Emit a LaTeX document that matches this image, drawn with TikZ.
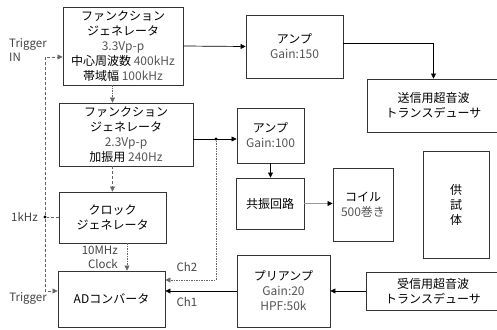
\documentclass[tikz,border=0pt]{standalone}
\usepackage{fontspec}
\setmainfont{Noto Sans CJK JP}
\usetikzlibrary{arrows.meta}
\definecolor{bc}{HTML}{333333}
\definecolor{tg}{HTML}{555555}
\definecolor{lg}{HTML}{444444}
\definecolor{dg}{HTML}{666666}
\definecolor{lgl}{HTML}{999999}
\begin{document}
\begin{tikzpicture}[x=1pt,y=-1pt,
  box/.style={draw=bc, line width=0.9pt, inner sep=0pt, align=center,
    font=\fontsize{12}{15}\selectfont},
  lbl/.style={inner sep=0pt, text=lg, font=\fontsize{11.5}{14}\selectfont},
  arr/.style={draw=black, line width=0.7pt, -{Triangle[length=5pt,width=5pt]}},
  dasharr/.style={draw=dg, line width=0.6pt, dash pattern=on 3pt off 2pt, -{Triangle[length=5pt,width=5pt]}},
  dotarr/.style={draw=dg, line width=0.6pt, dash pattern=on 1.5pt off 1pt, -{Triangle[length=5pt,width=5pt]}},
  jdot/.style={circle, fill=black, inner sep=0pt, minimum size=3.2pt}]
\useasboundingbox (0,0) rectangle (497,329);
\clip (0,0) rectangle (497,329);
\fill[white] (0,0) rectangle (497,329);

% boxes
\node[box, minimum width=120pt, minimum height=78pt] (fg1) at (123,46)
  {ファンクション\\ジェネレータ\\\textcolor{tg}{3.3Vp-p}\\中心周波数 \textcolor{tg}{400kHz}\\帯域幅 \textcolor{tg}{100kHz}};
\node[box, minimum width=97pt, minimum height=63pt] (amp1) at (294.5,46.5)
  {アンプ\\\textcolor{tg}{Gain:150}};
\node[box, minimum width=133pt, minimum height=53pt] (tx) at (433.5,105.5)
  {送信用超音波\\トランスデューサ};
\node[box, minimum width=134pt, minimum height=63pt] (fg2) at (126,134.5)
  {ファンクション\\ジェネレータ\\\textcolor{tg}{2.3Vp-p}\\加振用 \textcolor{tg}{240Hz}};
\node[box, minimum width=67pt, minimum height=55pt] (amp2) at (270.5,135.5)
  {アンプ\\\textcolor{tg}{Gain:100}};
\node[box, minimum width=68pt, minimum height=51pt] (res) at (270,203.5)
  {共振回路};
\node[box, minimum width=60pt, minimum height=73pt] (coil) at (363,204.5)
  {コイル\\\textcolor{tg}{500巻き}};
\node[box, minimum width=66pt, minimum height=107pt] (spec) at (456,204.5)
  {供\\試\\体};
\node[box, minimum width=107pt, minimum height=51pt] (clock) at (112.5,217.5)
  {クロック\\ジェネレータ};
\node[box, minimum width=107pt, minimum height=56pt] (adc) at (111.5,299)
  {ADコンバータ};
\node[box, minimum width=93pt, minimum height=72pt] (pre) at (283.5,291)
  {プリアンプ\\\textcolor{tg}{Gain:20}\\\textcolor{tg}{HPF:50k}};
\node[box, minimum width=134pt, minimum height=38pt] (rx) at (433,291)
  {受信用超音波\\トランスデューサ};

% junctions
\node[jdot] (j) at (216,139) {};
\node[jdot] (k) at (45,217) {};

% labels
\node[lbl, anchor=west, align=left] (ltrig) at (9,50) {Trigger\\IN};
\node[lbl, anchor=east] (l1k) at (38,217) {1kHz};
\node[lbl, anchor=east] (ltrig2) at (47,298) {Trigger};
\node[lbl, anchor=east, align=right] (lclk) at (118,257.5) {10MHz\\Clock};
\node[lbl] (lch2) at (187,267) {Ch2};
\node[lbl] (lch1) at (187,302) {Ch1};

% solid connectors
\draw[arr] (fg1.east) -- (amp1.west);
\draw[arr] ([yshift=3.5pt]amp1.east) -| (tx.north);
\draw[arr] (fg2.east |- j) -- (amp2.west |- j);
\draw[arr] (amp2.south) -- (res.north -| amp2.south);
\draw[line width=0.7pt, draw=lgl] (res.east) -- ([xshift=-4pt]coil.west |- res.east);
\draw[arr] ([xshift=-5pt]coil.west |- res.east) -- (coil.west |- res.east);
\draw[arr] (rx.west |- pre.east) -- (pre.east);
\draw[arr] (pre.west) -- (adc.east |- pre.west);

% dotted / dashed
\draw[dotarr] (fg1.south -| clock.north) -- (fg2.north -| clock.north);
\draw[dasharr] (fg2.south -| clock.north) -- (clock.north);
\draw[dotarr] ([xshift=14.5pt]clock.south) -- ([xshift=15.5pt]adc.north);
\draw[dotarr] (j) |- ([yshift=19pt]adc.east);
\draw[dasharr, -] (clock.west |- k) -- (k);
\draw[dasharr] (k) |- ([yshift=-11pt]fg1.west);
\draw[dasharr] (k) |- ([yshift=8pt]adc.west);
\end{tikzpicture}
\end{document}
